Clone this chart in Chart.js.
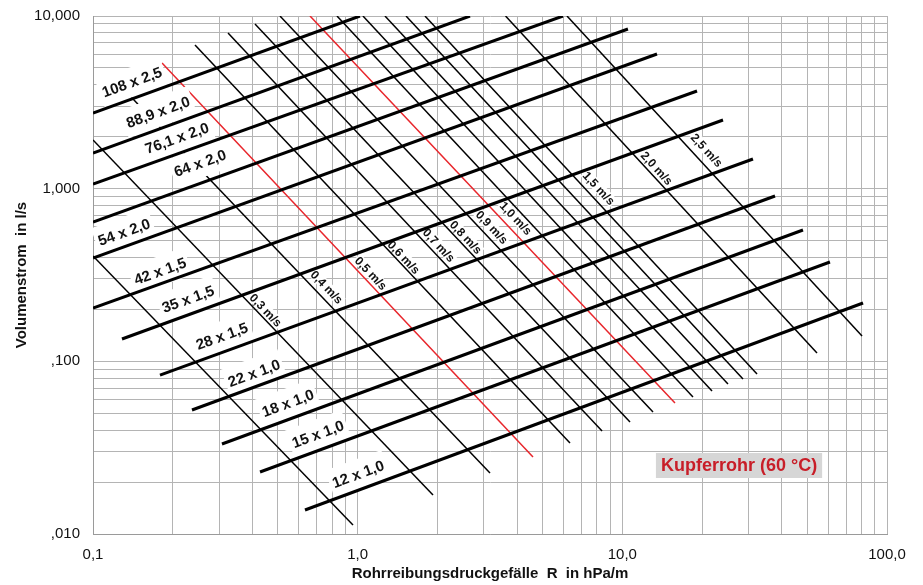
<!DOCTYPE html>
<html lang="de">
<head>
<meta charset="utf-8">
<title>Kupferrohr (60 °C) – Rohrreibungsdruckgefälle</title>
<script src="https://cdn.jsdelivr.net/npm/chart.js@4.4.1/dist/chart.umd.min.js"></script>
<style>
  html, body { margin: 0; padding: 0; background: #fff; }
  #wrap { width: 923px; height: 585px; }
</style>
</head>
<body>
<div id="wrap"><canvas id="c" width="923" height="585"></canvas></div>
<script>
// Achsen: Rohrreibungsdruckgefälle R in hPa/m (x), Volumenstrom in l/s (y), beide logarithmisch
const xTickValues = [0.1, 1, 10, 100];
const xTickLabels = ['0,1', '1,0', '10,0', '100,0'];
const yTickValues = [0.01, 0.1, 1, 10];
const yTickLabels = [',010', ',100', '1,000', '10,000'];

// Rohrdimensionen: Anfangs- und Endpunkt jeder Linie (R in hPa/m, Volumenstrom in l/s)
const pipeNames  = ['108 x 2,5', '88,9 x 2,0', '76,1 x 2,0', '64 x 2,0', '54 x 2,0', '42 x 1,5',
                    '35 x 1,5', '28 x 1,5', '22 x 1,0', '18 x 1,0', '15 x 1,0', '12 x 1,0'];
const pipeStartR = [0.1, 0.1, 0.1, 0.1, 0.1, 0.1, 0.1287, 0.1791, 0.2366, 0.3071, 0.4276, 0.6324];
const pipeStartV = [2.743, 1.609, 1.064, 0.641, 0.3967, 0.2037, 0.1347, 0.0833, 0.05225, 0.03321, 0.02286, 0.01377];
const pipeEndR   = [1.02, 2.657, 5.968, 10.50, 13.52, 19.15, 24.01, 31.16, 37.75, 48.15, 60.88, 81.19];
const pipeEndV   = [10, 10, 10, 8.41, 6.026, 3.679, 2.499, 1.485, 0.907, 0.5763, 0.3761, 0.2177];

// Fließgeschwindigkeiten: Anfangs- und Endpunkt jeder Linie
const speedNames  = ['0,2 m/s', '0,3 m/s', '0,4 m/s', '0,5 m/s', '0,6 m/s', '0,7 m/s', '0,8 m/s', '0,9 m/s',
                     '1,0 m/s', '1,1 m/s', '1,2 m/s', '1,3 m/s', '1,4 m/s', '1,5 m/s', '2,0 m/s', '2,5 m/s'];
const speedStartR = [0.1, 0.1, 0.1180, 0.1823, 0.2429, 0.3237, 0.4093, 0.5087,
                     0.6605, 0.8353, 1.047, 1.268, 1.523, 1.796, 3.62, 6.179];
const speedStartV = [0.4074, 1.913, 4.434, 5.343, 6.793, 7.97, 8.989, 10,
                     10, 10, 10, 10, 10, 10, 10, 10];
const speedEndR   = [0.9602, 1.926, 3.162, 4.597, 6.342, 8.382, 10.69, 13.06,
                     15.81, 18.49, 21.82, 25.07, 28.57, 32.28, 54.39, 80.48];
const speedEndV   = [0.01128, 0.01682, 0.02256, 0.02792, 0.03366, 0.0395, 0.04454, 0.05087,
                     0.05737, 0.06215, 0.06733, 0.07391, 0.07899, 0.08446, 0.1117, 0.1402];
const highlightedSpeeds = ['0,5 m/s', '1,0 m/s'];

// Beschriftungsanker (in Achseneinheiten)
const pipeLabelAtR  = [0.1404, 0.1761, 0.2077, 0.2537, 0.1310, 0.1791, 0.2285, 0.3071, 0.4058, 0.5453, 0.7079, 1.003];
const pipeLabelAtV  = [4.147, 2.780, 1.966, 1.408, 0.5612, 0.3336, 0.2296, 0.1402, 0.0856, 0.05737, 0.03795, 0.02227];
const speedLabelAtR = [null, 0.4503, 0.7657, 1.123, 1.496, 2.029, 2.567, 3.218, 3.965, null, null, null, null, 8.163, 13.52, 20.89];
const speedLabelAtV = [null, 0.1983, 0.2695, 0.3248, 0.4020, 0.4718, 0.5249, 0.5998, 0.6762, null, null, null, null, 1.009, 1.317, 1.675];

const noteText = 'Kupferrohr (60 °C)';
const noteAtR = 27.6, noteAtV = 0.02493;

// ---------------------------------------------------------------------------
const FONT = "'Liberation Sans', Arial, Helvetica, sans-serif";
Chart.defaults.font.family = FONT;

// Gitterlinien bei 1..9 je Dekade
function decadeGrid(min, max) {
  const out = [];
  for (let e = Math.round(Math.log10(min)); e < Math.round(Math.log10(max)); e++) {
    for (let k = 1; k < 10; k++) out.push(Number((k * Math.pow(10, e)).toPrecision(4)));
  }
  out.push(max);
  return out;
}
const xGrid = decadeGrid(0.1, 100);
const yGrid = decadeGrid(0.01, 10);

function tickText(values, labels) {
  return v => {
    const i = values.findIndex(t => Math.abs(t - v) < t * 1e-6);
    return i >= 0 ? labels[i] : '';
  };
}

const datasets = [];
pipeNames.forEach((name, i) => datasets.push({
  label: name,
  order: 1,
  data: [{ x: pipeStartR[i], y: pipeStartV[i] }, { x: pipeEndR[i], y: pipeEndV[i] }],
  borderColor: '#000',
  borderWidth: 3,
  pointRadius: 0,
  fill: false,
  tension: 0,
  clip: 0
}));
speedNames.forEach((name, i) => datasets.push({
  label: name,
  order: 2,
  data: [{ x: speedStartR[i], y: speedStartV[i] }, { x: speedEndR[i], y: speedEndV[i] }],
  borderColor: highlightedSpeeds.includes(name) ? '#e8262c' : '#000',
  borderWidth: 1.5,
  pointRadius: 0,
  fill: false,
  tension: 0,
  clip: 0
}));

function lineAngle(chart, r1, v1, r2, v2) {
  const xs = chart.scales.x, ys = chart.scales.y;
  return Math.atan2(ys.getPixelForValue(v2) - ys.getPixelForValue(v1),
                    xs.getPixelForValue(r2) - xs.getPixelForValue(r1));
}

function rotatedLabel(ctx, text, px, py, angle, font, capH, padX, padY, bg, color) {
  ctx.save();
  ctx.translate(px, py);
  ctx.rotate(angle);
  ctx.font = font;
  const w = ctx.measureText(text).width;
  if (bg) {
    ctx.fillStyle = bg;
    ctx.fillRect(-w / 2 - padX, -capH / 2 - padY, w + 2 * padX, capH + 2 * padY);
  }
  ctx.fillStyle = color;
  ctx.textAlign = 'center';
  ctx.textBaseline = 'middle';
  ctx.fillText(text, 0, 1);
  ctx.restore();
}

function drawLineLabels(chart) {
  const ctx = chart.ctx, xs = chart.scales.x, ys = chart.scales.y;
  speedNames.forEach((name, i) => {
    if (speedLabelAtR[i] == null) return;
    const a = lineAngle(chart, speedStartR[i], speedStartV[i], speedEndR[i], speedEndV[i]);
    rotatedLabel(ctx, name, xs.getPixelForValue(speedLabelAtR[i]), ys.getPixelForValue(speedLabelAtV[i]),
      a, 'bold 12px ' + FONT, 9, 1, 1, '#fff', '#111');
  });
  pipeNames.forEach((name, i) => {
    const a = lineAngle(chart, pipeStartR[i], pipeStartV[i], pipeEndR[i], pipeEndV[i]);
    rotatedLabel(ctx, name, xs.getPixelForValue(pipeLabelAtR[i]), ys.getPixelForValue(pipeLabelAtV[i]),
      a, 'bold 15px ' + FONT, 11, 3, 9, '#fff', '#111');
  });
}

const labelPlugin = {
  id: 'lineLabels',
  beforeDatasetsDraw(chart) { chart.$labelsDrawn = false; },
  beforeDatasetDraw(chart, args) {
    // Beschriftungen nach den Geschwindigkeitslinien, vor den Rohrlinien zeichnen
    if (!chart.$labelsDrawn && chart.data.datasets[args.index].order === 1) {
      drawLineLabels(chart);
      chart.$labelsDrawn = true;
    }
  },
  afterDatasetsDraw(chart) {
    const ctx = chart.ctx;
    const px = chart.scales.x.getPixelForValue(noteAtR);
    const py = chart.scales.y.getPixelForValue(noteAtV);
    ctx.save();
    ctx.font = 'bold 18px ' + FONT;
    const w = ctx.measureText(noteText).width;
    ctx.fillStyle = '#d6d6d6';
    ctx.fillRect(px - w / 2 - 5, py - 12.5, w + 10, 25);
    ctx.fillStyle = '#c81e28';
    ctx.textAlign = 'center';
    ctx.textBaseline = 'middle';
    ctx.fillText(noteText, px, py + 1);
    ctx.restore();
  }
};

new Chart(document.getElementById('c'), {
  type: 'line',
  data: { datasets },
  plugins: [labelPlugin],
  options: {
    responsive: false,
    animation: false,
    events: [],
    layout: { padding: { top: 16, right: 36, bottom: 0, left: 0 } },
    plugins: { legend: { display: false }, tooltip: { enabled: false } },
    scales: {
      x: {
        type: 'logarithmic',
        min: 0.1,
        max: 100,
        afterBuildTicks: s => { s.ticks = xGrid.map(v => ({ value: v })); },
        afterFit: s => { s.height = 51; },
        ticks: {
          autoSkip: false, maxRotation: 0, padding: 12,
          font: { size: 15 }, color: '#111',
          callback: tickText(xTickValues, xTickLabels)
        },
        grid: { color: '#b4b4b4', lineWidth: 1, drawTicks: false },
        border: { color: '#9a9a9a', width: 1 },
        title: {
          display: true, text: 'Rohrreibungsdruckgefälle  R  in hPa/m', color: '#111',
          font: { size: 15, weight: 'bold' }, padding: { top: 0, bottom: 2 }
        }
      },
      y: {
        type: 'logarithmic',
        min: 0.01,
        max: 10,
        afterBuildTicks: s => { s.ticks = yGrid.map(v => ({ value: v })); },
        afterFit: s => { s.width = 93; },
        ticks: {
          autoSkip: false, padding: 7,
          font: { size: 15 }, color: '#111',
          callback: tickText(yTickValues, yTickLabels)
        },
        grid: { color: '#b4b4b4', lineWidth: 1, drawTicks: true, tickLength: 6, tickColor: 'rgba(0,0,0,0)' },
        border: { color: '#9a9a9a', width: 1 },
        title: {
          display: true, text: 'Volumenstrom  in l/s', color: '#111',
          font: { size: 15, weight: 'bold' }, padding: { top: 13, bottom: 0 }
        }
      }
    }
  }
});
</script>
</body>
</html>
